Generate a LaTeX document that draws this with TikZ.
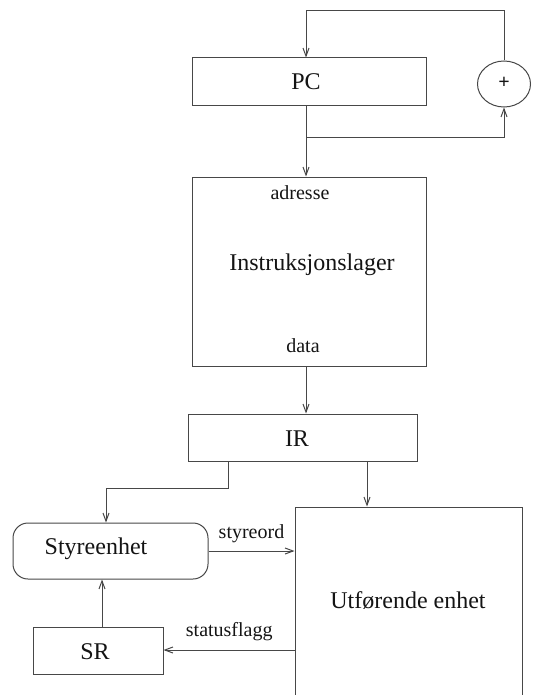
\documentclass[tikz,border=0pt]{standalone}
\usepackage{fontspec}
\setmainfont{Liberation Serif}
\usetikzlibrary{arrows.meta,shapes.geometric}
\begin{document}
\begin{tikzpicture}[x=1pt,y=-1pt,
  line width=1pt,
  wire/.style={draw=black!72},
  flow/.style={wire,-{Straight Barb[length=8pt,width=6pt]}},
  block/.style={draw=black!72,rectangle,inner sep=0pt},
  big/.style={font=\fontsize{24}{28}\selectfont,text=black!92,inner sep=0pt},
  small/.style={font=\fontsize{20}{24}\selectfont,text=black!92,inner sep=0pt}]
\useasboundingbox (0,0) rectangle (533,695);
\clip (0,0) rectangle (533,695);

% registers and memory
\node[block,minimum width=234pt,minimum height=48pt] (pc) at (309,82) {};
\node[big] (pctxt) at (306,82) {PC};
\node[draw=black!72,ellipse,minimum width=53pt,minimum height=46pt,inner sep=0pt] (plus) at (504,84) {};
\node[small,font=\fontsize{20}{24}\selectfont\bfseries] (plustxt) at (504,83) {+};
\node[block,minimum width=234pt,minimum height=189pt] (mem) at (309,271.5) {};
\node[small] (adr) at (300,193) {adresse};
\node[big] (memtxt) at (312,265) {Instruksjonslager};
\node[small] (dat) at (303,346) {data};
\node[block,minimum width=229pt,minimum height=47pt] (ir) at (302.5,437.5) {};
\node[big] (irtxt) at (297,439) {IR};

% control and execution units
\node[block,rounded corners=15pt,minimum width=195pt,minimum height=56pt] (ctl) at (110.5,551) {};
\node[big] (ctltxt) at (96,549) {Styreenhet};
\node[block,minimum width=227pt,minimum height=260pt] (exe) at (408.5,637) {};
\node[big] (exetxt) at (408,601) {Utførende enhet};
\node[block,minimum width=130pt,minimum height=47pt] (sr) at (98,650.5) {};
\node[big] (srtxt) at (95,652) {SR};

% auxiliary points of the connectors
\coordinate (loop) at (306,11);
\coordinate (br) at (306,138);
\coordinate (irl) at (228,461);
\coordinate (bend) at (106,488);
\coordinate (irr) at (367,461);
\coordinate (up) at (102,600);

% PC increment loop
\draw[flow] (plus.north) |- (loop) -- (loop |- pc.north);
\draw[wire] (loop |- pc.south) -- (br);
\draw[flow] (br) -| (plus.south);
\draw[flow] (br) -- (br |- mem.north);
\draw[flow] (loop |- mem.south) -- (loop |- ir.north);

% instruction register outputs
\draw[flow] (irl) |- (bend) -- (bend |- ctl.north);
\draw[flow] (irr) -- (irr |- exe.north);

% control word and status flags
\draw[flow] (ctl.east) -- (ctl.east -| exe.west) node[small,pos=0.5,above=8pt] (sord) {styreord};
\coordinate (st) at (295,650);
\draw[flow] (st) -- (st -| sr.east) node[small,pos=0.5,above=9pt] (sflag) {statusflagg};
\draw[flow] (up |- sr.north) -- (up |- ctl.south);
\end{tikzpicture}
\end{document}
